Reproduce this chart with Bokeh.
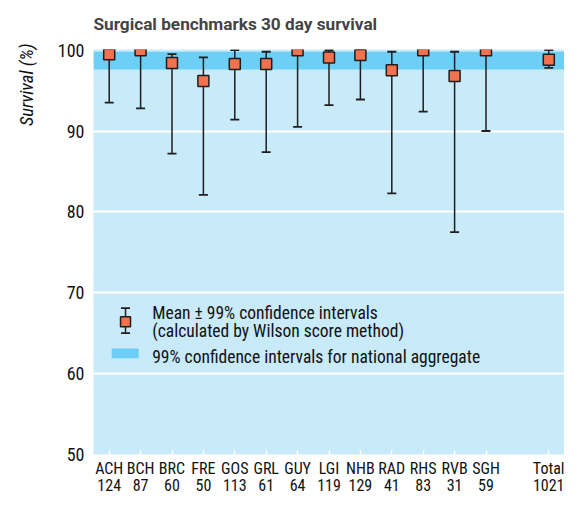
from bokeh.plotting import figure
from bokeh.models import Range1d, FixedTicker, Label, BoxAnnotation, ColumnDataSource, Title
from bokeh.embed import file_html
from bokeh.resources import INLINE

# ---- data ----
hospitals = ["ACH", "BCH", "BRC", "FRE", "GOS", "GRL", "GUY", "LGI", "NHB", "RAD", "RHS", "RVB", "SGH", "Total"]
counts = ["124", "87", "60", "50", "113", "61", "64", "119", "129", "41", "83", "31", "59", "1021"]
positions = [1, 2, 3, 4, 5, 6, 7, 8, 9, 10, 11, 12, 13, 15]
survival = [99.5, 100.0, 98.4, 96.2, 98.3, 98.3, 100.0, 99.1, 99.4, 97.5, 100.0, 96.8, 100.0, 98.8]
upper = [100.0, 100.0, 99.5, 99.1, 100.0, 99.8, 100.0, 100.0, 100.0, 99.8, 100.0, 99.8, 100.0, 100.0]
lower = [93.5, 92.8, 87.2, 82.1, 91.4, 87.4, 90.5, 93.2, 93.9, 82.3, 92.4, 77.5, 90.0, 97.8]
national_low = 97.6
national_high = 99.8
y_ticks = [50, 60, 70, 80, 90, 100]
grid_values = [60, 70, 80, 90]

FONT = "'Roboto Condensed', 'DejaVu Sans Condensed', 'Liberation Sans Narrow', Roboto, sans-serif"
BG = "#c9eaf9"
BAND = "#6dcff5"
SQ = "#f2714f"
DARK = "#1e1e1e"

src = ColumnDataSource(dict(x=positions, y=survival, lo=lower, hi=upper))

p = figure(width=564, height=497, x_range=Range1d(0.5, 15.5), y_range=Range1d(50, 100.08),
           output_backend="svg", toolbar_location=None,
           min_border_left=91, min_border_right=0, min_border_top=48, min_border_bottom=30)
p.background_fill_color = BG
p.border_fill_color = "white"
p.outline_line_color = None

p.title.text = "Surgical benchmarks 30 day survival"
p.title.text_font = "Roboto"
p.title.text_font_style = "bold"
p.title.text_font_size = "17.2px"
p.title.align = "left"
p.title.vertical_align = "top"
p.title.standoff = 27

# national band
p.add_layout(BoxAnnotation(bottom=national_low, top=national_high, fill_color=BAND, fill_alpha=1.0,
                           line_color=None, level="underlay"))

# axes
p.xaxis.ticker = FixedTicker(ticks=positions)
p.xaxis.major_label_overrides = {pos: f"{h}\n{c}" for pos, h, c in zip(positions, hospitals, counts)}
p.xaxis.axis_line_color = None
p.xaxis.major_tick_in = 4
p.xaxis.major_tick_out = 0
p.xaxis.major_tick_line_color = "white"
p.xaxis.major_tick_line_width = 1.5
p.xaxis.minor_tick_line_color = None
p.xaxis.major_label_text_font = FONT
p.xaxis.major_label_text_font_size = "16px"
p.xaxis.major_label_text_line_height = 0.9
p.xaxis.major_label_text_color = "#111"
p.xaxis.major_label_standoff = 4

p.yaxis.ticker = FixedTicker(ticks=y_ticks)
p.yaxis.axis_line_color = None
p.yaxis.major_tick_line_color = None
p.yaxis.major_tick_in = 0
p.yaxis.major_tick_out = 0
p.yaxis.minor_tick_line_color = None
p.yaxis.major_label_text_font = FONT
p.yaxis.major_label_text_font_size = "18px"
p.yaxis.major_label_text_color = "#111"
p.yaxis.major_label_standoff = 9

# y axis label as a left-side title aligned with the top of the frame
ylab = Title(text="Survival (%)", align="right", vertical_align="top", text_font=FONT,
             text_font_style="italic", text_font_size="18.5px", text_color="#111",
             standoff=30, offset=-6)
p.add_layout(ylab, "left")

p.xgrid.grid_line_color = None
p.ygrid.ticker = FixedTicker(ticks=grid_values)
p.ygrid.grid_line_color = "white"
p.ygrid.grid_line_width = 2

# error bars
p.segment(x0="x", y0="lo", x1="x", y1="hi", source=src, line_color=DARK, line_width=1.5)
p.scatter(x="x", y="lo", source=src, marker="dash", size=9, line_color=DARK, line_width=1.8)
p.scatter(x="x", y="hi", source=src, marker="dash", size=9, line_color=DARK, line_width=1.8)
p.scatter(x="x", y="y", source=src, marker="square", size=11, fill_color=SQ, line_color=DARK, line_width=1.5)

# legend
leg_src = ColumnDataSource(dict(x=[1.52], y=[66.4], lo=[65.0], hi=[68.1]))
p.segment(x0="x", y0="lo", x1="x", y1="hi", source=leg_src, line_color=DARK, line_width=1.5)
p.scatter(x="x", y="lo", source=leg_src, marker="dash", size=9, line_color=DARK, line_width=1.8)
p.scatter(x="x", y="hi", source=leg_src, marker="dash", size=9, line_color=DARK, line_width=1.8)
p.scatter(x="x", y="y", source=leg_src, marker="square", size=10, fill_color=SQ, line_color=DARK, line_width=1.5)
p.quad(left=[1.08], right=[1.94], bottom=[61.9], top=[63.1], fill_color=BAND, line_color=None)

for ty, txt in [(67.45, "Mean \u00b1 99% confidence intervals"),
                (65.25, "(calculated by Wilson score method)"),
                (62.1, "99% confidence intervals for national aggregate")]:
    p.add_layout(Label(x=2.37, y=ty, text=txt, text_font=FONT, text_font_size="17.5px",
                       text_baseline="middle", text_align="left", text_color="#111"))

open("out.html", "w").write(file_html(p, INLINE))
